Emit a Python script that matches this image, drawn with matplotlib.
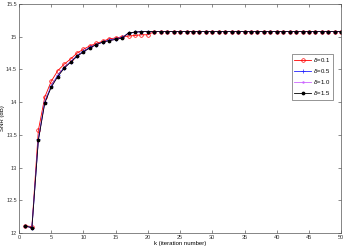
import numpy as np
import matplotlib
matplotlib.use('Agg')
import matplotlib.pyplot as plt

k = np.arange(1, 51)
snr_d01 = [12.11, 12.10, 13.57, 14.08, 14.32, 14.48, 14.58, 14.66, 14.75, 14.81,
           14.86, 14.90, 14.93, 14.97, 14.98, 15.00, 15.01, 15.02, 15.03, 15.03,
           15.08, 15.08, 15.08, 15.08, 15.08, 15.08, 15.08, 15.08, 15.08, 15.08,
           15.08, 15.08, 15.08, 15.08, 15.08, 15.08, 15.08, 15.08, 15.08, 15.08,
           15.08, 15.08, 15.08, 15.08, 15.08, 15.08, 15.08, 15.08, 15.08, 15.08]
snr_d05 = [12.11, 12.08, 13.44, 14.01, 14.25, 14.41, 14.53, 14.62, 14.71, 14.78,
           14.84, 14.88, 14.92, 14.95, 14.97, 14.99, 15.05, 15.07, 15.08, 15.08,
           15.08, 15.08, 15.08, 15.08, 15.08, 15.08, 15.08, 15.08, 15.08, 15.08,
           15.08, 15.08, 15.08, 15.08, 15.08, 15.08, 15.08, 15.08, 15.08, 15.08,
           15.08, 15.08, 15.08, 15.08, 15.08, 15.08, 15.08, 15.08, 15.08, 15.08]
snr_d10 = [12.11, 12.08, 13.43, 14.00, 14.24, 14.40, 14.52, 14.62, 14.70, 14.77,
           14.83, 14.88, 14.92, 14.94, 14.96, 14.98, 15.06, 15.07, 15.08, 15.08,
           15.08, 15.08, 15.08, 15.08, 15.08, 15.08, 15.08, 15.08, 15.08, 15.08,
           15.08, 15.08, 15.08, 15.08, 15.08, 15.08, 15.08, 15.08, 15.08, 15.08,
           15.08, 15.08, 15.08, 15.08, 15.08, 15.08, 15.08, 15.08, 15.08, 15.08]
snr_d15 = [12.11, 12.08, 13.42, 13.99, 14.23, 14.39, 14.52, 14.61, 14.70, 14.77,
           14.83, 14.88, 14.92, 14.94, 14.96, 14.98, 15.06, 15.07, 15.08, 15.08,
           15.08, 15.08, 15.08, 15.08, 15.08, 15.08, 15.08, 15.08, 15.08, 15.08,
           15.08, 15.08, 15.08, 15.08, 15.08, 15.08, 15.08, 15.08, 15.08, 15.08,
           15.08, 15.08, 15.08, 15.08, 15.08, 15.08, 15.08, 15.08, 15.08, 15.08]
labels = [r'$\delta$=0.1', r'$\delta$=0.5', r'$\delta$=1.0', r'$\delta$=1.5']

plt.rcParams.update({'font.size': 4, 'font.family': 'Liberation Sans',
                     'mathtext.fontset': 'dejavusans'})

fig = plt.figure(figsize=(3.46, 2.52), dpi=100)
ax = fig.add_axes([0.055, 0.075, 0.931, 0.909])

ax.plot(k, snr_d01, color='#ff0000', lw=0.6, marker='o', ms=2.6, mfc='none',
        mew=0.5, label=labels[0])
ax.plot(k, snr_d05, color='#2222ff', lw=0.6, marker='+', ms=2.6, mew=0.5,
        label=labels[1])
ax.plot(k, snr_d10, color='#cc66ff', lw=0.6, marker='.', ms=1.5,
        label=labels[2])
ax.plot(k, snr_d15, color='black', lw=0.6, marker='.', ms=3.4,
        label=labels[3])

ax.set_xlim(0, 50)
ax.set_ylim(12, 15.5)
ax.set_xticks(np.arange(0, 51, 5))
ax.set_yticks(np.arange(12, 15.51, 0.5))
ax.set_yticklabels(['12', '12.5', '13', '13.5', '14', '14.5', '15', '15.5'])
ax.tick_params(direction='in', top=True, right=True, length=2, width=0.4,
               pad=1.5, labelsize=4, colors='#333333')
for s in ax.spines.values():
    s.set_linewidth(0.5)
    s.set_color('#555555')
ax.set_xlabel('k (iteration number)', labelpad=0.5, fontsize=4.3)
ax.set_ylabel('SNR (dB)', labelpad=1, fontsize=4.3)

leg = ax.legend(loc='upper left', bbox_to_anchor=(0.838, 0.795), fontsize=4.3,
                frameon=True, fancybox=False, edgecolor='#444444',
                handlelength=2.8, borderpad=0.4, labelspacing=0.5,
                handletextpad=0.3)
leg.get_frame().set_linewidth(0.5)

fig.savefig('out.png', dpi=100)
